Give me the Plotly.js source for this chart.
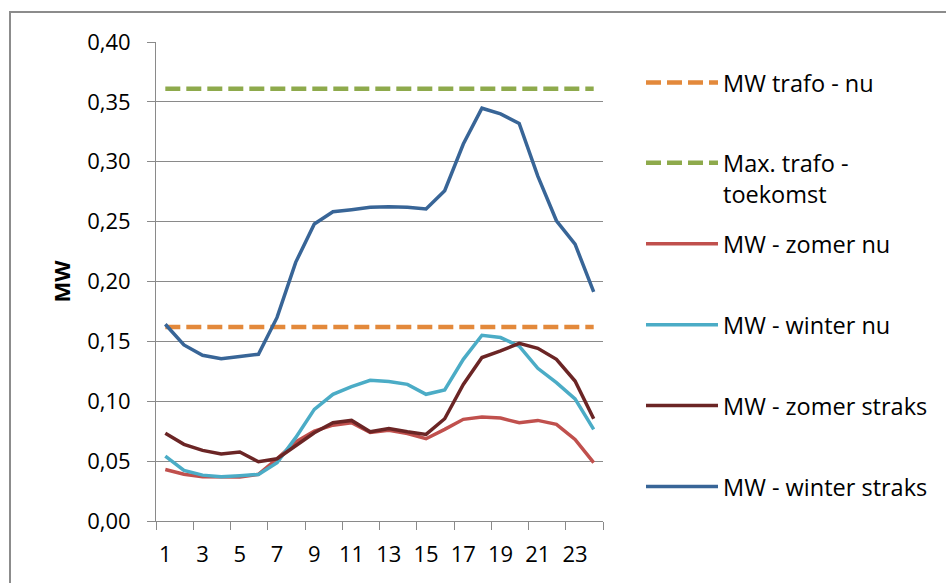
<!DOCTYPE html>
<html>
<head>
<meta charset="utf-8">
<script src="https://cdn.plot.ly/plotly-3.0.1.min.js"></script>
<style>
  html, body { margin: 0; padding: 0; background: #ffffff; }
  #chart { width: 946px; height: 583px; }
</style>
</head>
<body>
<div id="chart"></div>
<script>
// ---- data ----
const hours = [1,2,3,4,5,6,7,8,9,10,11,12,13,14,15,16,17,18,19,20,21,22,23,24];
const trafoNu = 0.162;
const trafoToekomst = 0.361;
const zomerNu = [0.043,0.039,0.037,0.0367,0.0367,0.039,0.052,0.066,0.075,0.080,0.082,0.074,0.0757,0.073,0.0687,0.0765,0.0849,0.0868,0.086,0.082,0.084,0.0807,0.0681,0.0487];
const winterNu = [0.0542,0.0422,0.0383,0.037,0.0378,0.0389,0.0487,0.0696,0.0932,0.1058,0.1122,0.1175,0.1164,0.1141,0.1058,0.1094,0.135,0.1551,0.1532,0.146,0.1275,0.1155,0.102,0.0765];
const zomerStraks = [0.0732,0.064,0.059,0.056,0.0576,0.0495,0.052,0.063,0.0737,0.082,0.084,0.0745,0.0773,0.0745,0.0723,0.0854,0.114,0.1365,0.142,0.1484,0.1442,0.135,0.1169,0.0854];
const winterStraks = [0.1643,0.147,0.1384,0.1356,0.1373,0.1392,0.170,0.216,0.248,0.2582,0.2599,0.2619,0.2624,0.262,0.2605,0.2758,0.3148,0.3447,0.340,0.332,0.288,0.2507,0.2312,0.1913];
const xTickLabels = ["1","3","5","7","9","11","13","15","17","19","21","23"];
const names = ["MW trafo - nu","Max. trafo -<br>toekomst","MW - zomer nu","MW - winter nu","MW - zomer straks","MW - winter straks"];

// ---- layout helpers ----
const W = 946, H = 583;
const mL = 156, mR = 343, mT = 42, mB = 62;
const pw = W - mL - mR, ph = H - mT - mB;
const px = p => (p - mL) / pw;
const py = q => (H - mB - q) / ph;

const FONT = '"Open Sans", "Noto Sans", sans-serif';
const GRID = '#8a8a8a';

const flat = v => hours.map(() => v);

const traces = [
  {y: flat(trafoNu), color: '#E3893B', dash: '15px,6px', width: 4.5, legend: 'legend'},
  {y: flat(trafoToekomst), color: '#8EAA4C', dash: '15px,6px', width: 4.5, legend: 'legend2'},
  {y: zomerNu, color: '#C0504D', dash: 'solid', width: 3.5, legend: 'legend3'},
  {y: winterNu, color: '#4BACC6', dash: 'solid', width: 3.5, legend: 'legend4'},
  {y: zomerStraks, color: '#6B2525', dash: 'solid', width: 3.5, legend: 'legend5'},
  {y: winterStraks, color: '#386597', dash: 'solid', width: 3.5, legend: 'legend6'}
].map((t, i) => ({
  type: 'scatter', mode: 'lines', x: hours, y: t.y, name: names[i],
  line: {color: t.color, dash: t.dash, width: t.width},
  legend: t.legend, hoverinfo: 'x+y'
}));

const legendRows = [82.7, 178.5, 244, 325, 405.7, 486.7];
const legendX = px(641);
const mkLegend = (row, valign) => ({
  x: legendX, xanchor: 'left', y: py(row), yanchor: 'middle',
  font: {family: FONT, size: 23.5, color: '#000000'},
  bgcolor: 'rgba(0,0,0,0)', borderwidth: 0, itemwidth: 72, valign: valign || 'middle',
  itemclick: false, itemdoubleclick: false
});

const minorTicks = [];
for (let k = 0; k <= hours.length; k += 2) minorTicks.push(k + 0.5);

const layout = {
  width: W, height: H,
  margin: {l: mL, r: mR, t: mT, b: mB, autoexpand: false},
  paper_bgcolor: '#ffffff', plot_bgcolor: '#ffffff',
  separators: ',.',
  font: {family: FONT, size: 22, color: '#000000'},
  xaxis: {
    range: [0.5, 24.5], showgrid: false, zeroline: false,
    showline: true, linecolor: GRID, linewidth: 1,
    tickmode: 'array', tickvals: xTickLabels.map(Number), ticktext: xTickLabels,
    ticks: '', ticklabelstandoff: 14,
    minor: {tickmode: 'array', tickvals: minorTicks, ticks: 'outside', ticklen: 8, tickcolor: GRID, tickwidth: 1, showgrid: false},
    tickfont: {family: FONT, size: 22, color: '#000000'},
    fixedrange: true
  },
  yaxis: {
    range: [0, 0.40], dtick: 0.05, tick0: 0, tickformat: '.2f',
    showgrid: true, gridcolor: GRID, gridwidth: 1, zeroline: false,
    showline: true, linecolor: GRID, linewidth: 1,
    ticks: 'outside', ticklen: 8, tickcolor: GRID, ticklabelstandoff: 12,
    tickfont: {family: FONT, size: 22, color: '#000000'},
    title: {text: '<b>MW</b>', font: {family: FONT, size: 22, color: '#000000'}, standoff: 10},
    fixedrange: true
  },
  showlegend: true,
  legend: mkLegend(legendRows[0]),
  legend2: mkLegend(legendRows[1], 'top'),
  legend3: mkLegend(legendRows[2]),
  legend4: mkLegend(legendRows[3]),
  legend5: mkLegend(legendRows[4]),
  legend6: mkLegend(legendRows[5]),
  shapes: [{
    type: 'rect', xref: 'paper', yref: 'paper',
    x0: px(10), x1: px(960), y0: py(600), y1: py(12),
    line: {color: '#8c8c8c', width: 2}, fillcolor: 'rgba(0,0,0,0)', layer: 'below'
  }]
};

Plotly.newPlot('chart', traces, layout, {displayModeBar: false, staticPlot: false});
</script>
</body>
</html>
